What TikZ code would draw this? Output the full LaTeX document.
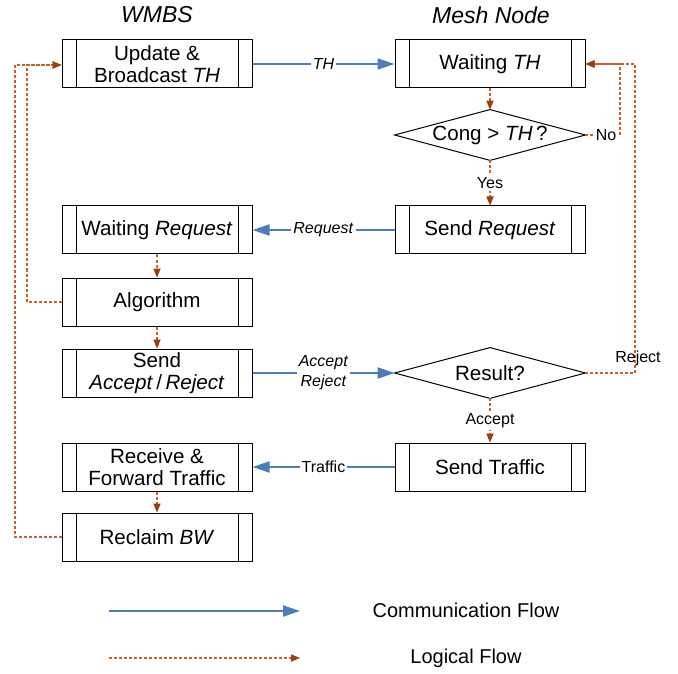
\documentclass[tikz,border=0pt]{standalone}
\usepackage{fontspec}
\setmainfont{Liberation Sans}
\usetikzlibrary{arrows.meta}
\definecolor{commblue}{RGB}{74,126,187}
\definecolor{logline}{RGB}{196,98,45}
\definecolor{logtip}{RGB}{160,60,10}
\tikzset{
  proc/.style={rectangle, draw=black, line width=0.5pt, minimum width=95pt, minimum height=24pt,
    inner sep=1pt, align=center, font=\fontsize{10.3}{11}\selectfont,
    path picture={
      \draw[line width=0.5pt] ([xshift=7pt]path picture bounding box.north west) -- ([xshift=7pt]path picture bounding box.south west);
      \draw[line width=0.5pt] ([xshift=-7pt]path picture bounding box.north east) -- ([xshift=-7pt]path picture bounding box.south east);
    }},
  dia/.style={rectangle, minimum width=95pt, minimum height=25pt, inner sep=0pt, font=\fontsize{10.3}{11}\selectfont},
  comm/.style={draw=commblue, line width=1pt, -{Triangle[length=8.5pt,width=5.5pt,fill=commblue]}},
  logic/.style={draw=logline, line width=0.55pt, dash pattern=on 1.5pt off 1pt,
    -{Triangle[length=4.5pt,width=3.6pt,fill=logtip,color=logtip]}},
  lbl/.style={fill=white, inner sep=1pt, font=\fontsize{8}{10}\selectfont, align=center},
  head/.style={font=\fontsize{11.5}{13}\selectfont\itshape},
  legtext/.style={font=\fontsize{10}{12}\selectfont}
}
\begin{document}
\begin{tikzpicture}[x=0.5pt,y=-0.5pt]
\useasboundingbox (0,0) rectangle (678,673);
% headers
\node[head] (h1) at (157,15) {WMBS};
\node[head] (h2) at (491,15) {Mesh Node};
% WMBS column
\node[proc] (upd) at (157,64) {Update \&\\Broadcast \textit{TH}};
\node[proc] (wreq) at (157,230) {Waiting \textit{Request}};
\node[proc] (alg) at (157,302) {Algorithm};
\node[proc] (sar) at (157,373) {Send\\\textit{Accept}\,/\,\textit{Reject}};
\node[proc] (rcv) at (157,467) {Receive \&\\Forward Traffic};
\node[proc] (rcl) at (157,537) {Reclaim \textit{BW}};
% Mesh node column
\node[proc] (wth) at (490,64) {Waiting \textit{TH}};
\node[dia] (d1) at (490,135) {Cong > \textit{TH}\,?};
\draw[line width=0.5pt] (d1.west) -- (d1.north) -- (d1.east) -- (d1.south) -- cycle;
\node[proc] (sreq) at (490,230) {Send \textit{Request}};
\node[dia] (res) at (490,373) {Result?};
\draw[line width=0.5pt] (res.west) -- (res.north) -- (res.east) -- (res.south) -- cycle;
\node[proc] (strf) at (490,467) {Send Traffic};
% communication flows
\draw[comm] (upd) -- node[lbl]{\textit{TH}} (wth);
\draw[comm] (sreq) -- node[lbl]{\textit{Request}} (wreq);
\draw[comm] (sar) -- node[lbl]{\textit{Accept}\\\textit{Reject}} (res);
\draw[comm] (strf) -- node[lbl]{Traffic} (rcv);
% logical flows
\draw[logic] (wth) -- (d1);
\draw[logic] (d1) -- node[lbl]{Yes} (sreq);
\draw[logic] (wreq) -- (alg);
\draw[logic] (alg) -- (sar);
\draw[logic] (res) -- node[lbl]{Accept} (strf);
\draw[logic] (rcv) -- (rcl);
\draw[logic] (d1.east) -- node[lbl, pos=0.6]{No} (620,135) -- (620,64) -- (wth.east);
\draw[logic] (res.east) -- (635,373) -- (635,64) -- (wth.east);
\node[font=\fontsize{8}{10}\selectfont] (rej) at (638,358) {Reject};
\draw[logic] (alg.west) -- (27,302) -- (27,65) -- (upd.west |- 0,65);
\draw[logic] (rcl.west) -- (15,537) -- (15,65) -- (upd.west |- 0,65);
% legend
\coordinate (l1a) at (109,611);
\coordinate (l1b) at (300,611);
\coordinate (l2a) at (109,658);
\coordinate (l2b) at (300,658);
\draw[comm] (l1a) -- (l1b);
\draw[logic] (l2a) -- (l2b);
\node[legtext] (t1) at (466,610) {Communication Flow};
\node[legtext] (t2) at (466,658) {Logical Flow};
\end{tikzpicture}
\end{document}
